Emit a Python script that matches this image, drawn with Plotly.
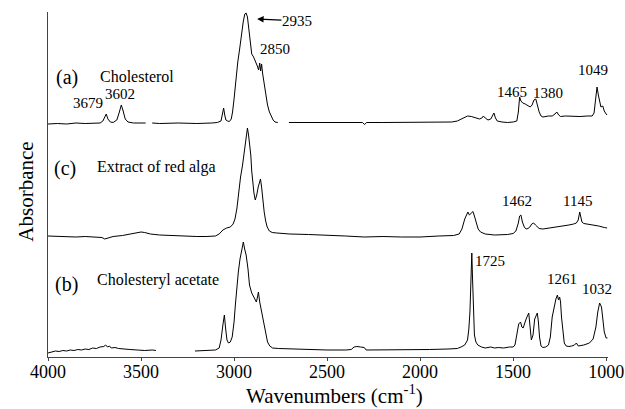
import plotly.graph_objects as go

# ---- data (wavenumber cm-1, absorbance in arbitrary offset units) ----
wn_a = [4000, 3950, 3900, 3850, 3800, 3750, 3720, 3705, 3695, 3687, 3678, 3665, 3650, 3630, 3618,
        3606, 3596, 3585, 3570, 3540, 3500, 3475, None, 3440, 3400, 3300, 3200, 3120, 3090, 3070,
        3062, 3056, 3050, 3044, 3035, 3025, 3015, 3008, 3000, 2990, 2980, 2970, 2960, 2950, 2942,
        2935, 2928, 2920, 2912, 2905, 2895, 2885, 2875, 2868, 2862, 2857, 2852, 2846, 2838, 2830,
        2820, 2810, 2800, 2790, 2780, 2765, None, 2705, 2600, 2500, 2400, 2310, 2298, 2288, 2200,
        2000, 1900, 1830, 1800, 1770, 1745, 1725, 1700, 1680, 1668, 1660, 1650, 1635, 1620, 1610,
        1603, 1595, 1585, 1560, 1530, 1500, 1480, 1472, 1465, 1458, 1448, 1435, 1420, 1408, 1398,
        1388, 1378, 1370, 1360, 1350, 1340, 1310, 1290, 1275, 1265, 1255, 1245, 1220, 1180, 1140,
        1100, 1075, 1065, 1058, 1049, 1042, 1035, 1028, 1018, 1010, 1000, 995]
ab_a = [233, 233.5, 233, 234, 233.5, 234, 234, 236, 240, 243, 238, 235, 234.5, 237, 244,
        252, 246, 238, 235, 234, 234, 234, None, 234, 233.5, 234, 233.5, 234, 234.5, 236,
        242, 249, 242, 237, 236, 235.5, 238, 245, 258, 278, 295, 308, 323, 336, 343,
        344, 340, 325, 310, 303, 300, 296, 291, 287, 294, 286, 293, 283, 272, 262,
        252, 245, 240, 237, 235, 234.5, None, 234.5, 234.5, 234.5, 234.5, 234.5, 232.5, 234.5, 234.5,
        234.5, 234.5, 235, 236, 239, 241, 240.5, 239, 238, 239, 241, 239, 237, 238, 241,
        244, 239, 236, 235, 234.5, 235, 236, 245, 260, 256, 254, 253, 251, 250, 252,
        257, 258, 251, 245, 241, 240, 241, 241, 243, 245, 242, 240.5, 241, 240.5, 240.5,
        241, 241, 244, 255, 270, 262, 255, 250, 251, 246, 243, 242]

wn_c = [4000, 3950, 3900, 3850, 3800, 3750, 3710, 3695, 3680, 3650, 3600, 3550, 3500, 3480, 3450,
        3400, 3350, 3300, 3200, 3150, 3100, 3080, 3060, 3040, 3020, 3005, 2995, 2985, 2975, 2965,
        2955, 2948, 2940, 2932, 2928, 2922, 2915, 2910, 2905, 2900, 2893, 2886, 2878, 2870, 2864,
        2858, 2852, 2846, 2838, 2830, 2822, 2810, 2795, 2770, 2740, 2700, 2600, 2500, 2400, 2300,
        2200, 2100, 2000, 1900, 1820, 1790, 1775, 1760, 1748, 1743, 1735, 1725, 1716, 1708, 1698,
        1688, 1675, 1650, 1600, 1570, 1530, 1500, 1485, 1472, 1465, 1458, 1450, 1440, 1430, 1420,
        1410, 1400, 1390, 1380, 1370, 1360, 1340, 1300, 1260, 1230, 1200, 1175, 1160, 1150, 1142,
        1136, 1130, 1120, 1100, 1070, 1040, 1010, 995]
ab_c = [121, 120.5, 120.5, 120, 120.5, 120, 119.5, 118, 119, 120.5, 121.5, 123, 125, 124.5, 123,
        122, 121.5, 121, 120.5, 120.5, 121, 123, 127, 129, 130, 133, 138, 148, 165, 180,
        191, 200, 214, 225, 229, 222, 210, 202, 186, 176, 164, 157, 162, 170, 176,
        178, 170, 157, 145, 136, 130, 126, 124.5, 124, 123.5, 123, 122.5, 122, 121, 120,
        120.5, 120, 120, 121, 121.5, 123, 128, 138, 144, 145, 142, 144, 145.5, 141, 133,
        128, 125, 123, 122, 122, 122.5, 123.5, 126, 134, 141, 142, 135, 130, 128, 128.5,
        130, 133, 134, 132, 130, 128.5, 128, 129, 130, 131, 132, 133, 134, 137, 145,
        140, 135, 133.5, 133, 132, 131, 129.5, 129]

wn_b = [4000, 3980, 3960, 3940, 3920, 3900, 3880, 3860, 3840, 3820, 3800, 3780, 3760, 3740, 3720,
        3700, 3690, 3680, 3670, 3660, 3640, 3620, 3600, 3560, 3520, 3480, 3440, 3420, None, 3210,
        3150, 3100, 3080, 3070, 3060, 3052, 3045, 3038, 3030, 3020, 3010, 3000, 2993, 2985, 2977,
        2968, 2958, 2950, 2943, 2935, 2925, 2917, 2905, 2895, 2888, 2880, 2874, 2869, 2862, 2855,
        2845, 2837, 2830, 2820, 2808, 2793, 2760, 2700, 2600, 2500, 2400, 2370, 2355, 2340, 2320,
        2300, 2290, 2250, 2150, 2050, 1950, 1850, 1800, 1780, 1760, 1745, 1738, 1732, 1727, 1722,
        1718, 1714, 1708, 1700, 1690, 1670, 1650, 1620, 1600, 1580, 1550, 1520, 1500, 1490, 1480,
        1470, 1460, 1453, 1446, 1438, 1430, 1416, 1410, 1402, 1393, 1384, 1370, 1364, 1358, 1350,
        1340, 1325, 1310, 1300, 1290, 1280, 1270, 1262, 1256, 1250, 1245, 1240, 1232, 1225, 1215,
        1200, 1185, 1170, 1160, 1150, 1120, 1090, 1070, 1055, 1045, 1035, 1025, 1018, 1010, 1000, 993]
ab_b = [4, 5, 6, 5.5, 6.5, 6, 7, 6.5, 7.5, 7, 8, 7.5, 9, 8.5, 10,
        10.5, 12, 10, 11, 9, 9.5, 8.5, 8, 7.5, 7, 6.5, 7, 6.5, None, 6,
        6.5, 7, 9, 17, 32, 42, 28, 17, 14, 15, 20, 35, 52, 70, 85,
        98, 108, 115, 108, 102, 88, 72, 64, 60, 57, 55, 60, 65, 55, 48,
        40, 33, 22, 15, 11, 9, 8.5, 8, 7.5, 7, 7, 7.5, 10, 10.5, 10,
        9.5, 7, 7, 7, 7, 7.5, 8, 8.5, 10, 12, 17, 28, 45, 75, 104,
        78, 45, 22, 15, 12, 10, 9, 10, 9, 9.5, 9, 10, 10, 12, 22,
        33, 35, 30, 29, 35, 38, 44, 30, 17, 22, 38, 44, 35, 20, 11,
        9.5, 10, 12, 20, 40, 50, 58, 62, 57, 60, 55, 40, 25, 14, 11,
        10.5, 11, 12, 14, 11, 12, 14, 18, 30, 45, 54, 50, 35, 25, 19, 19]

tick_vals = [4000, 3500, 3000, 2500, 2000, 1500, 1000]

# annotations: (text, x, y, size, anchor)
labels = [
    ("(a)", 3898, 280, 20, "center"),
    ("Cholesterol", 3731, 281, 16, "left"),
    ("3679", 3785, 254, 15, "center"),
    ("3602", 3613, 263, 15, "center"),
    ("2850", 2780, 308, 15, "center"),
    ("1465", 1505, 265, 15, "center"),
    ("1380", 1312, 264, 15, "center"),
    ("1049", 1070, 287, 15, "center"),
    ("(c)", 3909, 189, 20, "center"),
    ("Extract of red alga", 3747, 190, 16, "left"),
    ("1462", 1478, 156, 15, "center"),
    ("1145", 1156, 156, 15, "center"),
    ("(b)", 3898, 73, 20, "center"),
    ("Cholesteryl acetate", 3747, 77, 16, "left"),
    ("1725", 1624, 96, 15, "center"),
    ("1261", 1237, 78, 15, "center"),
    ("1032", 1048, 68, 15, "center"),
]

FONT = "Liberation Serif"

fig = go.Figure()
for wn, ab in [(wn_a, ab_a), (wn_c, ab_c), (wn_b, ab_b)]:
    fig.add_trace(go.Scatter(x=wn, y=ab, mode="lines", connectgaps=False,
                             line=dict(color="black", width=1), showlegend=False,
                             hoverinfo="skip"))

for text, x, y, size, anchor in labels:
    fig.add_annotation(x=x, y=y, text=text, showarrow=False, xanchor=anchor,
                       yanchor="middle", font=dict(family=FONT, size=size, color="black"))

# arrow pointing to the 2935 peak, label at the arrow tail
fig.add_annotation(x=2876, y=338, ax=2662, ay=336, xref="x", yref="y", axref="x", ayref="y",
                   text="2935", showarrow=True, arrowhead=2, arrowsize=1, arrowwidth=1.3,
                   arrowcolor="black", standoff=0, borderpad=0,
                   font=dict(family=FONT, size=15, color="black"))

# axis titles placed as annotations (paper coordinates)
fig.add_annotation(x=0.511, y=-0.108, xref="paper", yref="paper", showarrow=False,
                   text="Wavenumbers (cm<sup>-1</sup>)", xanchor="center", yanchor="middle",
                   font=dict(family=FONT, size=21, color="black"))
fig.add_annotation(x=-0.04, y=0.478, xref="paper", yref="paper", showarrow=False,
                   text="Absorbance", textangle=-90, xanchor="center", yanchor="middle",
                   font=dict(family=FONT, size=21, color="black"))

fig.update_layout(
    width=625, height=409,
    margin=dict(l=48, r=17, t=12, b=52, autoexpand=False),
    paper_bgcolor="white", plot_bgcolor="white",
    font=dict(family=FONT, color="black"),
    xaxis=dict(range=[4000, 990], tickvals=tick_vals, ticks="outside", ticklen=3,
               tickcolor="#444", showline=True, linecolor="#444", linewidth=1,
               showgrid=False, zeroline=False, tickfont=dict(family=FONT, size=18, color="black"),
               ticklabelstandoff=-5, automargin=False),
    yaxis=dict(range=[0, 345], showticklabels=False, ticks="", showline=True,
               linecolor="#444", linewidth=1, showgrid=False, zeroline=False,
               automargin=False),
)

fig.write_html("out.html")
